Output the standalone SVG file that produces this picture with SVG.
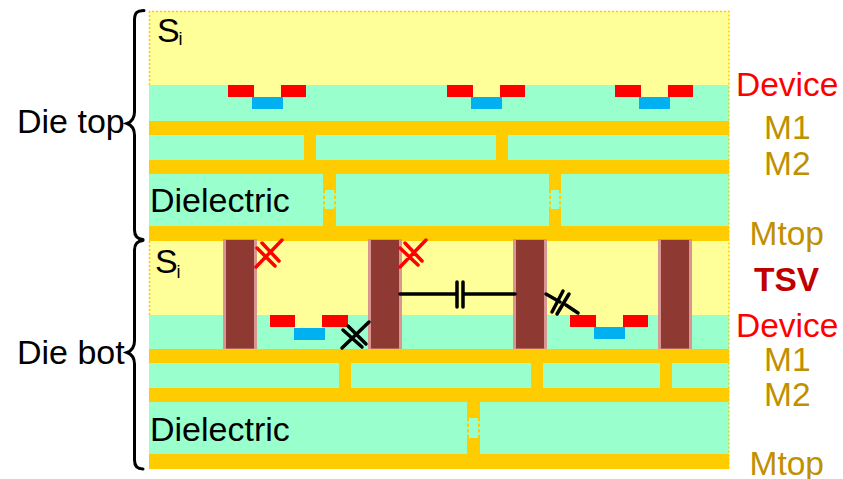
<svg xmlns="http://www.w3.org/2000/svg" width="843" height="479" viewBox="0 0 843 479">
<style>
text{font-family:"Liberation Sans",Arial,sans-serif}
.si{fill:#ffff99}.d{fill:#99ffcc}.m{fill:#ffcc00}.r{fill:#ff0000}.b{fill:#00b0f0}
.edge{fill:none;stroke:#ffcc00;stroke-width:1.5;stroke-dasharray:2 2}
.slot{fill:none;stroke:#ffcc00;stroke-width:2;stroke-dasharray:3.300 2.300}
.tsv{fill:#8e3a32}.side{fill:#d9958f}
.k{fill:none;stroke:#000;stroke-width:3.500;stroke-linecap:round}.x{fill:none;stroke:#ff0000;stroke-width:3.500;stroke-linecap:round}
.brace{fill:none;stroke:#000;stroke-width:3;stroke-linecap:round}
.t{font-size:34px;fill:#000}.g{font-size:33.500px;fill:#bf9000}.dev{font-size:33.500px;fill:#ff0000}
</style>
<g id="die-top">
<rect class="si" x="149" y="11" width="580" height="74"/>
<rect class="d" x="149" y="85" width="580" height="36"/>
<rect class="m" x="149" y="121" width="580" height="14"/>
<rect class="d" x="149" y="135" width="580" height="25"/>
<rect class="m" x="304" y="135" width="12" height="25"/>
<rect class="m" x="496" y="135" width="12" height="25"/>
<rect class="m" x="149" y="160" width="580" height="14"/>
<rect class="d" x="149" y="174" width="580" height="52"/>
<rect class="m" x="323" y="174" width="13" height="52"/>
<rect class="d" x="323" y="190" width="13" height="19"/>
<path class="slot" d="M324 190V209M335 190V209"/>
<rect class="m" x="549" y="174" width="12" height="52"/>
<rect class="d" x="549" y="190" width="12" height="19"/>
<path class="slot" d="M550 190V209M560 190V209"/>
<rect class="m" x="149" y="226" width="580" height="15"/>
</g>
<g id="die-top-devices">
<rect class="si" x="254" y="85" width="27" height="12"/><rect class="r" x="228" y="85" width="26" height="12"/><rect class="r" x="281" y="85" width="25" height="12"/><rect class="b" x="252" y="97" width="31" height="12"/>
<rect class="si" x="473" y="85" width="27" height="12"/><rect class="r" x="447" y="85" width="26" height="12"/><rect class="r" x="500" y="85" width="25" height="12"/><rect class="b" x="471" y="97" width="31" height="12"/>
<rect class="si" x="641" y="85" width="27" height="12"/><rect class="r" x="615" y="85" width="26" height="12"/><rect class="r" x="668" y="85" width="25" height="12"/><rect class="b" x="639" y="97" width="31" height="12"/>
</g>
<g id="die-bot">
<rect class="si" x="149" y="241" width="580" height="74"/>
<rect class="d" x="149" y="315" width="580" height="34"/>
<rect class="m" x="149" y="349" width="580" height="14"/>
<rect class="d" x="149" y="363" width="580" height="25"/>
<rect class="m" x="339" y="363" width="12" height="25"/>
<rect class="m" x="531" y="363" width="12" height="25"/>
<rect class="m" x="660" y="363" width="12" height="25"/>
<rect class="m" x="149" y="388" width="580" height="14"/>
<rect class="d" x="149" y="402" width="580" height="52"/>
<rect class="m" x="467" y="402" width="13" height="52"/>
<rect class="d" x="467" y="418" width="13" height="20"/>
<path class="slot" d="M468 418V438M479 418V438"/>
<rect class="m" x="149" y="454" width="580" height="15"/>
</g>
<path class="edge" d="M149.500 85V11.500H729V469M149.500 241V315"/>
<g id="die-bot-devices">
<rect class="si" x="295" y="315" width="27" height="13"/>
<rect class="r" x="270" y="315" width="25" height="12"/><rect class="r" x="322" y="315" width="26" height="12"/><rect class="b" x="294" y="328" width="31" height="12"/>
<rect class="si" x="596" y="315" width="27" height="12"/>
<rect class="r" x="570" y="315" width="26" height="12"/><rect class="r" x="623" y="315" width="25" height="12"/><rect class="b" x="594" y="327" width="31" height="12"/>
</g>
<g id="tsv-1"><rect class="side" x="223" y="239" width="34" height="110"/><rect class="tsv" x="226" y="240" width="28" height="108.500"/></g>
<g id="tsv-2"><rect class="side" x="368" y="239" width="34" height="110"/><rect class="tsv" x="371" y="240" width="28" height="108.500"/></g>
<g id="tsv-3"><rect class="side" x="513" y="239" width="34" height="110"/><rect class="tsv" x="516" y="240" width="28" height="108.500"/></g>
<g id="tsv-4"><rect class="side" x="658" y="239" width="34" height="110"/><rect class="tsv" x="661" y="240" width="28" height="108.500"/></g>
<g id="connectors">
<path class="x" d="M256 267L282 240M257 248L275 266M262 243L279 261"/>
<path class="x" d="M400 267L426 240M400 248L418 265M405 243L422 261"/>
<path class="k" d="M342 348L369 322M343 330L362 347M348 326L366 344"/>
<path class="k" d="M400 294H457M457 282V307M463 282V307M463 294H515"/>
<path class="k" d="M546 294L560 302M566 305L578 313M563 291L552 312M569 294L557 314"/>
</g>
<g id="labels">
<text class="t" x="157" y="42">S</text><text x="178.500" y="45" font-size="18">i</text>
<text class="t" x="155" y="273">S</text><text x="176.500" y="278" font-size="18">i</text>
<text class="t" x="150" y="212">Dielectric</text>
<text class="t" x="150" y="441">Dielectric</text>
<text class="t" x="17" y="133">Die top</text>
<text class="t" x="17" y="364">Die bot</text>
<text class="dev" x="736" y="96">Device</text>
<text class="g" x="764" y="139">M1</text>
<text class="g" x="764" y="175">M2</text>
<text class="g" x="749.500" y="245">Mtop</text>
<text x="754" y="291" font-size="33.500" font-weight="bold" fill="#c00000">TSV</text>
<text class="dev" x="736" y="337">Device</text>
<text class="g" x="764" y="371">M1</text>
<text class="g" x="764" y="406">M2</text>
<text class="g" x="749.500" y="475">Mtop</text>
</g>
<g id="braces">
<path class="brace" d="M144 10.500C137 10.500 134.500 13 134.500 20V112C134.500 118 131 122 127 123.500C131 125 134.500 129 134.500 135V230C134.500 236 137 239 143 239.500"/>
<path class="brace" d="M143 240.500C137 241 134.500 244 134.500 250V341C134.500 347 131 351 127 352.500C131 354 134.500 358 134.500 364V460C134.500 466 137 469 143 469"/>
</g>
</svg>
